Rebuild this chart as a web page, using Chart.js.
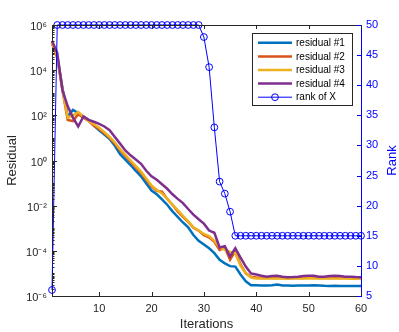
<!DOCTYPE html>
<html>
<head>
<meta charset="utf-8">
<script src="https://cdn.jsdelivr.net/npm/chart.js@4.4.0/dist/chart.umd.min.js"></script>
<style>
    html, body { margin: 0; padding: 0; background: #fff; }
</style>
</head>
<body>
<canvas id="residual-graph" width="399" height="332"></canvas>
<script>
const iterations = [1, 2, 3, 4, 5, 6, 7, 8, 9, 10, 11, 12, 13, 14, 15, 16, 17, 18, 19, 20,
    21, 22, 23, 24, 25, 26, 27, 28, 29, 30, 31, 32, 33, 34, 35, 36, 37, 38, 39, 40,
    41, 42, 43, 44, 45, 46, 47, 48, 49, 50, 51, 52, 53, 54, 55, 56, 57, 58, 59, 60];

const residual1 = [1.8e5, 4.0e4, 1.6e3, 89, 174, 126, 89, 63, 35, 22,
    14, 8.9, 4.5, 1.9, 1.1, 0.63, 0.35, 0.2, 0.095, 0.047,
    0.032, 0.019, 0.011, 5.6e-3, 3.2e-3, 1.8e-3, 1.1e-3, 5.0e-4, 2.8e-4, 1.9e-4,
    1.3e-4, 7.9e-5, 4.0e-5, 2.8e-5, 2.1e-5, 2.0e-5, 8.9e-6, 4.5e-6, 3.0e-6, 3.0e-6,
    2.95e-6, 2.9e-6, 3.0e-6, 3.2e-6, 2.95e-6, 2.9e-6, 2.85e-6, 2.9e-6, 2.95e-6, 2.9e-6,
    3.0e-6, 2.95e-6, 2.85e-6, 2.8e-6, 2.85e-6, 2.8e-6, 2.8e-6, 2.75e-6, 2.8e-6, 2.8e-6];

const residual2 = [1.6e5, 3.5e4, 1.3e3, 63, 56, 112, 79, 56, 35, 25,
    16, 10, 5.6, 2.8, 1.6, 0.89, 0.5, 0.28, 0.14, 0.071,
    0.045, 0.042, 0.02, 0.011, 5.6e-3, 3.2e-3, 1.9e-3, 1.05e-3, 7.9e-4, 5.0e-4,
    4.0e-4, 2.5e-4, 1.1e-4, 1.4e-4, 4.0e-5, 1.0e-4, 2.5e-5, 1.0e-5, 7.1e-6, 6.6e-6,
    6.3e-6, 6.2e-6, 6.3e-6, 6.4e-6, 6.3e-6, 6.2e-6, 6.2e-6, 6.3e-6, 6.3e-6, 6.4e-6,
    6.4e-6, 6.3e-6, 6.3e-6, 6.2e-6, 6.3e-6, 6.3e-6, 6.2e-6, 6.2e-6, 6.1e-6, 6.1e-6];

const residual3 = [1.7e5, 4.0e4, 1.4e3, 79, 100, 141, 89, 56, 40, 28,
    18, 11, 6.3, 3.2, 1.8, 1.0, 0.56, 0.32, 0.16, 0.079,
    0.05, 0.035, 0.02, 0.011, 6.3e-3, 3.5e-3, 2.0e-3, 1.1e-3, 7.9e-4, 5.6e-4,
    4.5e-4, 2.8e-4, 1.4e-4, 1.1e-4, 8.9e-5, 7.9e-5, 2.2e-5, 1.0e-5, 6.6e-6, 6.0e-6,
    5.9e-6, 5.9e-6, 6.0e-6, 6.0e-6, 5.9e-6, 5.8e-6, 5.9e-6, 6.0e-6, 6.0e-6, 6.1e-6,
    6.0e-6, 6.0e-6, 5.9e-6, 5.9e-6, 6.0e-6, 6.0e-6, 5.9e-6, 5.8e-6, 5.8e-6, 5.8e-6];

const residual4 = [2.0e5, 5.8e4, 1.3e3, 251, 79, 32, 89, 63, 52, 42,
    32, 22, 11, 5.6, 2.8, 1.7, 1.1, 0.71, 0.35, 0.2,
    0.14, 0.089, 0.056, 0.032, 0.02, 0.013, 7.1e-3, 4.0e-3, 2.5e-3, 1.6e-3,
    7.9e-4, 6.3e-4, 1.4e-4, 1.6e-4, 5.6e-5, 1.3e-4, 5.0e-5, 2.0e-5, 1.0e-5, 8.9e-6,
    7.9e-6, 7.1e-6, 7.6e-6, 7.9e-6, 7.1e-6, 6.8e-6, 6.9e-6, 7.1e-6, 7.6e-6, 7.9e-6,
    7.9e-6, 7.2e-6, 7.1e-6, 7.6e-6, 7.9e-6, 7.6e-6, 7.2e-6, 7.1e-6, 6.9e-6, 6.8e-6];

const rankOfX = [6, 50, 50, 50, 50, 50, 50, 50, 50, 50, 50, 50, 50, 50, 50, 50, 50, 50, 50, 50,
    50, 50, 50, 50, 50, 50, 50, 50, 50, 48, 43, 33, 24, 22, 19, 15, 15, 15, 15, 15,
    15, 15, 15, 15, 15, 15, 15, 15, 15, 15, 15, 15, 15, 15, 15, 15, 15, 15, 15, 15];

const xTickValues = [10, 20, 30, 40, 50, 60];
const yTickValues = [1e-6, 1e-4, 1e-2, 1, 1e2, 1e4, 1e6];
const yTickLabels = ['10⁻⁶', '10⁻⁴', '10⁻²', '10⁰', '10²', '10⁴', '10⁶'];
const rankTickValues = [5, 10, 15, 20, 25, 30, 35, 40, 45, 50];

const axisGray = '#262626';
const rankBlue = '#0000ff';
const fontFamily = '"Liberation Sans", Arial, Helvetica, sans-serif';

function toPoints(values) {
    return values.map(function (v, i) { return {x: iterations[i], y: v}; });
}

function residualSet(label, values, color, order) {
    return {
        label: label,
        data: toPoints(values),
        borderColor: color,
        backgroundColor: color,
        borderWidth: 2.5,
        pointRadius: 0,
        tension: 0,
        fill: false,
        yAxisID: 'y',
        clip: false,
        order: order
    };
}

// inward tick marks, top box line and the right axis title
const matlabAxes = {
    id: 'matlabAxes',
    afterDatasetsDraw(chart) {
        const ctx = chart.ctx;
        const area = chart.chartArea;
        const x = chart.scales.x, y = chart.scales.y, y1 = chart.scales.y1;
        ctx.save();
        ctx.lineWidth = 1;
        ctx.strokeStyle = axisGray;
        ctx.beginPath();
        ctx.moveTo(area.left, area.top + 0.5);
        ctx.lineTo(area.right, area.top + 0.5);
        xTickValues.forEach(function (v) {
            const px = Math.round(x.getPixelForValue(v)) + 0.5;
            ctx.moveTo(px, area.bottom);
            ctx.lineTo(px, area.bottom - 4);
            ctx.moveTo(px, area.top);
            ctx.lineTo(px, area.top + 4);
        });
        for (let k = -6; k < 6; k++) {
            for (let m = 1; m <= 9; m++) {
                const py = Math.round(y.getPixelForValue(m * Math.pow(10, k))) + 0.5;
                const len = (m === 1 && k % 2 === 0) ? 5 : 2.5;
                ctx.moveTo(area.left, py);
                ctx.lineTo(area.left + len, py);
            }
        }
        ctx.stroke();

        ctx.strokeStyle = rankBlue;
        ctx.beginPath();
        rankTickValues.forEach(function (v) {
            const py = Math.round(y1.getPixelForValue(v)) + 0.5;
            ctx.moveTo(area.right, py);
            ctx.lineTo(area.right - 4, py);
        });
        ctx.stroke();

        ctx.fillStyle = rankBlue;
        ctx.font = '13px ' + fontFamily;
        ctx.textAlign = 'center';
        ctx.textBaseline = 'middle';
        ctx.translate(392, (area.top + area.bottom) / 2);
        ctx.rotate(-Math.PI / 2);
        ctx.fillText('Rank', 0, 0);
        ctx.restore();
    }
};

// boxed legend in the upper right corner of the axes
const boxLegend = {
    id: 'boxLegend',
    afterDraw(chart) {
        const ctx = chart.ctx;
        const sets = chart.data.datasets;
        ctx.save();
        ctx.fillStyle = '#ffffff';
        ctx.fillRect(252.5, 33.5, 100, 72);
        ctx.strokeStyle = axisGray;
        ctx.lineWidth = 1;
        ctx.strokeRect(252.5, 33.5, 100, 72);
        ctx.font = '10px ' + fontFamily;
        ctx.textAlign = 'left';
        ctx.textBaseline = 'middle';
        sets.forEach(function (ds, i) {
            const ry = 42.8 + i * 13.6;
            ctx.strokeStyle = ds.borderColor;
            ctx.lineWidth = ds.borderWidth;
            ctx.beginPath();
            ctx.moveTo(258, ry);
            ctx.lineTo(292, ry);
            ctx.stroke();
            if (ds.pointRadius > 0) {
                ctx.lineWidth = ds.pointBorderWidth;
                ctx.beginPath();
                ctx.arc(275, ry, ds.pointRadius, 0, Math.PI * 2);
                ctx.stroke();
            }
            ctx.fillStyle = '#000000';
            ctx.fillText(ds.label, 296, ry + 0.5);
        });
        ctx.restore();
    }
};

const tickFont = {family: fontFamily, size: 11};
const titleFont = {family: fontFamily, size: 13};

new Chart(document.getElementById('residual-graph').getContext('2d'), {
    type: 'line',
    data: {
        datasets: [
            residualSet('residual #1', residual1, '#0072BD', 4),
            residualSet('residual #2', residual2, '#D95319', 3),
            residualSet('residual #3', residual3, '#EDB120', 2),
            residualSet('residual #4', residual4, '#7E2F8E', 1),
            {
                label: 'rank of X',
                data: toPoints(rankOfX),
                borderColor: rankBlue,
                borderWidth: 1,
                pointRadius: 3.4,
                pointStyle: 'circle',
                pointBorderColor: rankBlue,
                pointBackgroundColor: 'rgba(0,0,0,0)',
                pointBorderWidth: 1,
                tension: 0,
                fill: false,
                yAxisID: 'y1',
                clip: false,
                order: 0
            }
        ]
    },
    options: {
        responsive: false,
        animation: false,
        events: [],
        layout: {
            padding: {top: 25, left: 0, right: 0, bottom: 0}
        },
        scales: {
            x: {
                type: 'linear',
                min: 1,
                max: 60,
                afterBuildTicks: function (s) { s.ticks = xTickValues.map(function (v) { return {value: v}; }); },
                afterFit: function (s) { s.height = 36; },
                grid: {display: false, drawTicks: false},
                border: {display: true, color: axisGray, width: 1},
                ticks: {font: tickFont, color: axisGray, padding: 6, maxRotation: 0, autoSkip: false},
                title: {display: true, text: 'Iterations', font: titleFont, color: axisGray, padding: {top: 0, bottom: 0}}
            },
            y: {
                type: 'logarithmic',
                position: 'left',
                min: 1e-6,
                max: 1e6,
                afterBuildTicks: function (s) { s.ticks = yTickValues.map(function (v) { return {value: v}; }); },
                afterFit: function (s) { s.width = 52; },
                grid: {display: false, drawTicks: false},
                border: {display: true, color: axisGray, width: 1},
                ticks: {
                    font: tickFont,
                    color: axisGray,
                    padding: 5,
                    labelOffset: 2,
                    autoSkip: false,
                    callback: function (value, index) { return yTickLabels[index]; }
                },
                title: {display: true, text: 'Residual', font: titleFont, color: axisGray, padding: {top: 5, bottom: 0}}
            },
            y1: {
                type: 'linear',
                position: 'right',
                min: 5,
                max: 50,
                afterBuildTicks: function (s) { s.ticks = rankTickValues.map(function (v) { return {value: v}; }); },
                afterFit: function (s) { s.width = 38; },
                grid: {display: false, drawTicks: false},
                border: {display: true, color: rankBlue, width: 1},
                ticks: {font: tickFont, color: rankBlue, padding: 5, autoSkip: false}
            }
        },
        plugins: {
            legend: {display: false},
            tooltip: {enabled: false}
        }
    },
    plugins: [matlabAxes, boxLegend]
});
</script>
</body>
</html>
